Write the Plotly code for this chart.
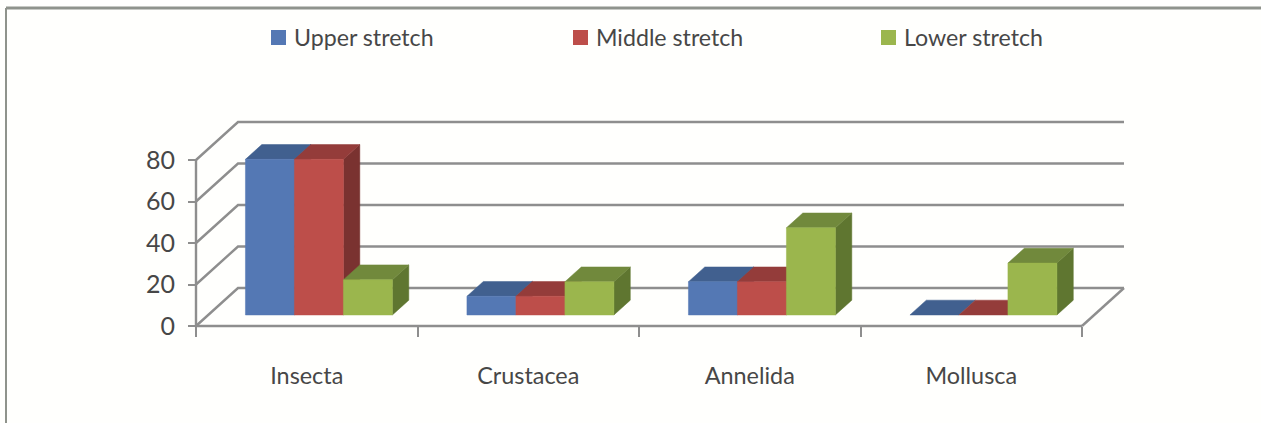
import plotly.graph_objects as go

# Chart data
categories = ["Insecta", "Crustacea", "Annelida", "Mollusca"]
upper_stretch = [75, 9, 16, 0]
middle_stretch = [75, 9, 16, 0]
lower_stretch = [17, 16, 42, 25]
series_names = ["Upper stretch", "Middle stretch", "Lower stretch"]
y_ticks = [0, 20, 40, 60, 80]

W, H = 1261, 423

# Front plane of the plot in window pixels
LEFT, RIGHT, BOTTOM, TOP = 196, 1082, 326, 160
PX_PER_CATEGORY = (RIGHT - LEFT) / 4
PX_PER_UNIT = (BOTTOM - TOP) / 80

# Oblique projection: one unit of depth shifts a point by this much in axis units
DEPTH_X = 42 / PX_PER_CATEGORY
DEPTH_Y = 38 / PX_PER_UNIT
BAR_WIDTH = 0.2212
BAR_NEAR, BAR_FAR = 0.29, 0.68

GRID = "#8e8e8e"
TEXT = "#474747"
FONT = "Lato"
faces = [
    {"front": "#5478b4", "top": "#41608f", "side": "#34507c"},
    {"front": "#bd4e4a", "top": "#943c3a", "side": "#7a3230"},
    {"front": "#9bb64d", "top": "#71893c", "side": "#5f7630"},
]


def project(x, y, z):
    return x + z * DEPTH_X, y + z * DEPTH_Y


def polygon(points, color):
    xs, ys = zip(*[project(*p) for p in points + points[:1]])
    return go.Scatter(
        x=xs, y=ys, mode="lines", fill="toself", fillcolor=color,
        line=dict(width=0.5, color=color),
        showlegend=False, hoverinfo="skip",
    )


fig = go.Figure()

# Side wall and back wall gridlines, floor edges and the two front axis lines
paths = [[(0, tick, 0), (0, tick, 1), (4, tick, 1)] for tick in y_ticks]
paths.append([(4, 0, 0), (4, 0, 1)])
paths.append([(0, y_ticks[-1], 0), (0, 0, 0), (4, 0, 0)])
grid_x, grid_y = [], []
for path in paths:
    for x, y, z in path:
        px, py = project(x, y, z)
        grid_x.append(px)
        grid_y.append(py)
    grid_x.append(None)
    grid_y.append(None)
fig.add_trace(go.Scatter(
    x=grid_x, y=grid_y, mode="lines", line=dict(color=GRID, width=2.4),
    showlegend=False, hoverinfo="skip",
))

# 3D bars, painted left to right so each bar hides the side of its neighbour
series = [upper_stretch, middle_stretch, lower_stretch]
gap = (1 - 3 * BAR_WIDTH) / 2
for c in range(len(categories)):
    for s, values in enumerate(series):
        v = values[c]
        x0 = c + gap + s * BAR_WIDTH
        x1 = x0 + BAR_WIDTH
        col = faces[s]
        if v > 0:
            fig.add_trace(polygon(
                [(x1, 0, BAR_NEAR), (x1, 0, BAR_FAR), (x1, v, BAR_FAR), (x1, v, BAR_NEAR)],
                col["side"]))
        fig.add_trace(polygon(
            [(x0, v, BAR_NEAR), (x0, v, BAR_FAR), (x1, v, BAR_FAR), (x1, v, BAR_NEAR)],
            col["top"]))
        if v > 0:
            fig.add_trace(polygon(
                [(x0, 0, BAR_NEAR), (x1, 0, BAR_NEAR), (x1, v, BAR_NEAR), (x0, v, BAR_NEAR)],
                col["front"]))

# Legend row
legend_left = [271, 573, 881]
shapes = []
annotations = []
for name, left, col in zip(series_names, legend_left, faces):
    shapes.append(dict(
        type="rect", xref="paper", yref="paper", layer="above",
        x0=left / W, x1=(left + 15) / W, y0=1 - 45 / H, y1=1 - 30 / H,
        fillcolor=col["front"], line=dict(width=0),
    ))
    annotations.append(dict(
        text=name, xref="paper", yref="paper", x=(left + 21) / W, y=1 - 37 / H,
        xanchor="left", yanchor="middle", showarrow=False,
        font=dict(family=FONT, size=23.2, color=TEXT),
    ))

# Outer frame along the top and left edges
shapes.append(dict(type="line", xref="paper", yref="paper",
                   x0=6 / W, x1=1, y0=1 - 8 / H, y1=1 - 8 / H,
                   line=dict(color="#8f938c", width=3)))
shapes.append(dict(type="line", xref="paper", yref="paper",
                   x0=6 / W, x1=6 / W, y0=1 - 8 / H, y1=0,
                   line=dict(color="#8f938c", width=2)))

# Both axes span the whole window so the projected walls stay inside the clip
# area; they are then pinned to the front plane as free axes.
fig.update_layout(
    template=None,
    width=W, height=H, autosize=False,
    margin=dict(l=0, r=0, t=0, b=0, autoexpand=False),
    paper_bgcolor="#fffffd", plot_bgcolor="rgba(0,0,0,0)",
    showlegend=False, shapes=shapes, annotations=annotations,
    xaxis=dict(
        domain=[0, 1], anchor="free", position=1 - BOTTOM / H, automargin=False,
        range=[-LEFT / PX_PER_CATEGORY, (W - LEFT) / PX_PER_CATEGORY],
        showgrid=False, zeroline=False, showline=False,
        tickmode="array", tickvals=[i + 0.5 for i in range(len(categories))],
        ticktext=categories, ticks="", ticklabelstandoff=34,
        tickfont=dict(family=FONT, size=23.4, color=TEXT),
        minor=dict(tickmode="array", tickvals=list(range(len(categories) + 1)),
                   ticks="outside", ticklen=10, tickcolor=GRID, tickwidth=2,
                   showgrid=False),
    ),
    yaxis=dict(
        domain=[0, 1], anchor="free", position=LEFT / W, automargin=False,
        range=[(BOTTOM - H) / PX_PER_UNIT, BOTTOM / PX_PER_UNIT],
        showgrid=False, zeroline=False, showline=False,
        tickmode="array", tickvals=y_ticks, ticks="outside", ticklen=8,
        tickcolor=GRID, tickwidth=2, ticklabelstandoff=8,
        tickfont=dict(family=FONT, size=25, color=TEXT),
    ),
)

fig.write_html("out.html")
